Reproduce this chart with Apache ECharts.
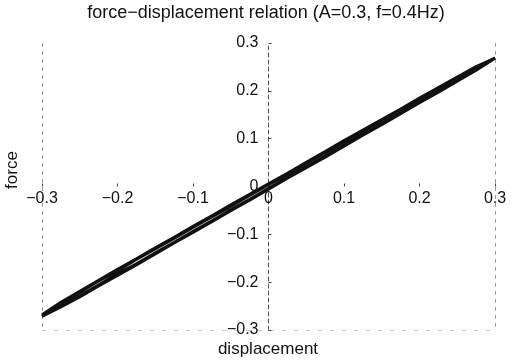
<!DOCTYPE html>
<html>
<head>
<meta charset="utf-8">
<script src="https://cdn.jsdelivr.net/npm/echarts@6/dist/echarts.min.js"></script>
<style>html,body{margin:0;padding:0;background:#fff}#c{width:514px;height:362px}</style>
</head>
<body>
<div id="c"></div>
<script>
var titleText = 'force\u2212displacement relation (A=0.3, f=0.4Hz)';
var xName = 'displacement';
var yName = 'force';
var tickValues = [-0.3, -0.2, -0.1, 0, 0.1, 0.2, 0.3];

var disp = [-0.3,-0.275,-0.25,-0.225,-0.2,-0.175,-0.15,-0.125,-0.1,-0.075,-0.05,-0.025,0,0.025,0.05,0.075,0.1,0.125,0.15,0.175,0.2,0.225,0.25,0.275,0.3];
var upper1 = [-0.268,-0.242,-0.219,-0.196,-0.173,-0.151,-0.128,-0.106,-0.083,-0.061,-0.038,-0.016,0.006,0.028,0.051,0.073,0.096,0.118,0.140,0.162,0.185,0.207,0.229,0.251,0.272];
var lower1 = [-0.272,-0.252,-0.231,-0.208,-0.186,-0.164,-0.141,-0.118,-0.096,-0.074,-0.051,-0.029,-0.006,0.017,0.039,0.061,0.084,0.107,0.129,0.152,0.175,0.197,0.220,0.243,0.268];
var upper2 = [-0.270,-0.245,-0.222,-0.198,-0.177,-0.153,-0.131,-0.109,-0.086,-0.064,-0.042,-0.019,0.003,0.025,0.048,0.070,0.093,0.115,0.138,0.160,0.182,0.205,0.228,0.250,0.273];
var lower2 = [-0.271,-0.249,-0.228,-0.205,-0.182,-0.161,-0.138,-0.116,-0.093,-0.071,-0.048,-0.026,-0.003,0.020,0.042,0.064,0.087,0.110,0.132,0.155,0.178,0.200,0.222,0.245,0.269];

function loop(lower, upper) {
  var pts = [];
  for (var i = 0; i < disp.length; i++) pts.push([disp[i], lower[i]]);
  for (var j = disp.length - 1; j >= 0; j--) pts.push([disp[j], upper[j]]);
  return pts;
}
function fmt(v) {
  var r = Math.round(v * 10) / 10;
  if (r === 0) return '0';
  return String(r).replace('-', '\u2212');
}
var FONT = '"Liberation Sans", Arial, sans-serif';
var edgeColors = tickValues.map(function (v, i) { return (i === 0 || i === tickValues.length - 1) ? '#9a9a9a' : 'rgba(0,0,0,0)'; });

var GL = 42, GR = 19, GT = 43, GB = 32;
var W = 514, H = 362;
var gw = W - GL - GR, gh = H - GT - GB;

var chart = echarts.init(document.getElementById('c'), null, {renderer: 'canvas'});
chart.setOption({
  animation: false,
  backgroundColor: '#fff',
  grid: {left: GL, right: GR, top: GT, bottom: GB, containLabel: false},
  graphic: [
    {type: 'text', x: 266, y: 4, style: {text: titleText, font: '18px ' + FONT, fill: '#111', textAlign: 'center'}},
    {type: 'text', x: 268, y: 341, style: {text: xName, font: '17px ' + FONT, fill: '#111', textAlign: 'center'}},
    {type: 'text', x: 12, y: 170, rotation: Math.PI / 2, style: {text: yName, font: '17px ' + FONT, fill: '#111', textAlign: 'center', textVerticalAlign: 'middle'}}
  ],
  xAxis: {
    type: 'value', min: -0.3, max: 0.3, interval: 0.1, position: 'bottom', offset: -gh / 2,
    axisLine: {show: false, onZero: false},
    axisTick: {show: true, inside: true, length: 3, lineStyle: {color: '#444'}},
    axisLabel: {margin: 4, fontSize: 16, fontFamily: FONT, color: '#111', formatter: fmt, showMinLabel: true, showMaxLabel: true},
    splitLine: {show: true, lineStyle: {color: edgeColors, type: [4, 4], width: 1}}
  },
  yAxis: {
    type: 'value', min: -0.3, max: 0.3, interval: 0.1, position: 'left', offset: -gw / 2,
    axisLine: {show: true, onZero: false, lineStyle: {color: '#555', type: [4, 3], width: 1}},
    axisTick: {show: true, inside: true, length: 3, lineStyle: {color: '#444'}},
    axisLabel: {margin: 10, fontSize: 16, fontFamily: FONT, color: '#111', formatter: fmt, showMinLabel: true, showMaxLabel: true},
    splitLine: {show: true, lineStyle: {color: edgeColors.map(function (c, i) { return i === 0 ? '#c8c8c8' : 'rgba(0,0,0,0)'; }), type: [4, 8], width: 1}}
  },
  series: [
    {type: 'line', data: loop(lower1, upper1), showSymbol: false, lineStyle: {color: '#111', width: 2.8}, silent: true},
    {type: 'line', data: loop(lower2, upper2), showSymbol: false, lineStyle: {color: '#111', width: 2.4}, silent: true}
  ]
});
</script>
</body>
</html>
